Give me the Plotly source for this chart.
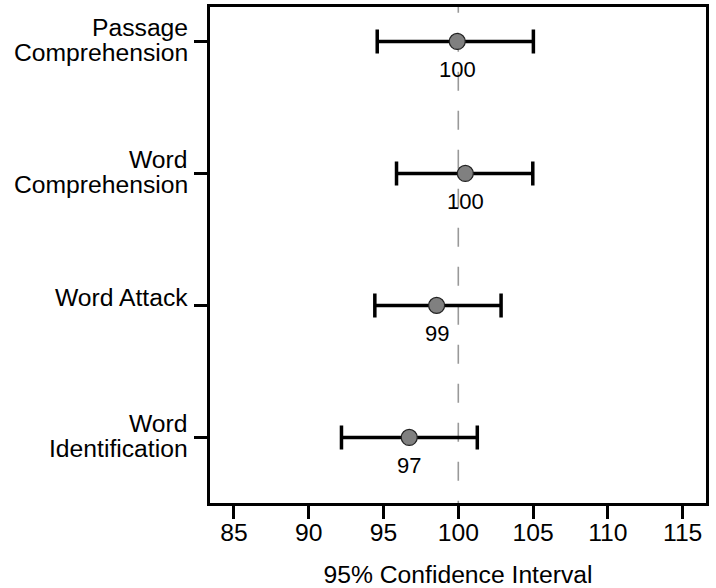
import plotly.graph_objects as go

# ---- data ----
categories = ["Word<br>Identification", "Word Attack", "Word<br>Comprehension", "Passage<br>Comprehension"]
point = [96.72, 98.55, 100.47, 99.93]
ci_low = [92.19, 94.42, 95.87, 94.58]
ci_high = [101.27, 102.86, 104.98, 105.02]
point_labels = ["97", "99", "100", "100"]
x_ticks = [85, 90, 95, 100, 105, 110, 115]
ref_value = 100

FONT = "Liberation Sans, Arial, Helvetica, sans-serif"
BIG = 24.7
x_range = [83.40, 116.56]
y_range = [-0.497, 3.261]

fig = go.Figure()
fig.add_trace(go.Scatter(
    x=point,
    y=categories,
    mode="markers",
    marker=dict(size=16, color="#808080", line=dict(width=1.2, color="#222222")),
    error_x=dict(
        type="data",
        symmetric=False,
        array=[h - p for h, p in zip(ci_high, point)],
        arrayminus=[p - l for p, l in zip(point, ci_low)],
        color="black",
        thickness=3.5,
        width=12,
    ),
    cliponaxis=False,
    showlegend=False,
))

# value labels under each point
for xv, cat, lab in zip(point, categories, point_labels):
    fig.add_annotation(
        x=xv, y=cat, xref="x", yref="y", text=lab, showarrow=False,
        xanchor="center", yanchor="middle", yshift=-28,
        font=dict(family=FONT, size=22, color="black"),
    )

# category labels (tight line spacing), right-aligned next to the ticks
for cat in categories:
    lines = cat.split("<br>")
    if len(lines) == 1:
        shifts = [8]
    else:
        shifts = [14, -11]
    for ln, sh in zip(lines, shifts):
        fig.add_annotation(
            x=0, xref="paper", y=cat, yref="y", text=ln, showarrow=False,
            xanchor="right", yanchor="middle", xshift=-20, yshift=sh,
            font=dict(family=FONT, size=BIG, color="black"),
        )

fig.add_shape(
    type="line", xref="x", yref="y",
    x0=ref_value, x1=ref_value,
    y0=y_range[1] + 0.1, y1=y_range[0],
    line=dict(color="#999999", width=1.6, dash="19px,20px"),
    layer="below",
)

fig.update_layout(
    template="none",
    width=716, height=588,
    margin=dict(l=210, r=10, t=7, b=85, pad=0),
    paper_bgcolor="white", plot_bgcolor="white",
    font=dict(family=FONT, size=BIG, color="black"),
    xaxis=dict(
        automargin=False,
        range=x_range,
        tickmode="array", tickvals=x_ticks, ticktext=[str(v) for v in x_ticks],
        ticks="outside", ticklen=13, tickwidth=3, tickcolor="black",
        showline=True, linewidth=3, linecolor="black", mirror=True,
        showgrid=False, zeroline=False,
        tickfont=dict(family=FONT, size=BIG, color="black"),
        ticklabelstandoff=-8,
        title=dict(text="95% Confidence Interval", font=dict(family=FONT, size=BIG, color="black"), standoff=22),
    ),
    yaxis=dict(
        automargin=False,
        type="category",
        categoryorder="array", categoryarray=categories,
        range=y_range,
        ticks="outside", ticklen=13, tickwidth=3, tickcolor="black",
        showline=True, linewidth=3, linecolor="black", mirror=True,
        showgrid=False, zeroline=False,
        showticklabels=False,
    ),
)

fig.write_html("out.html")
